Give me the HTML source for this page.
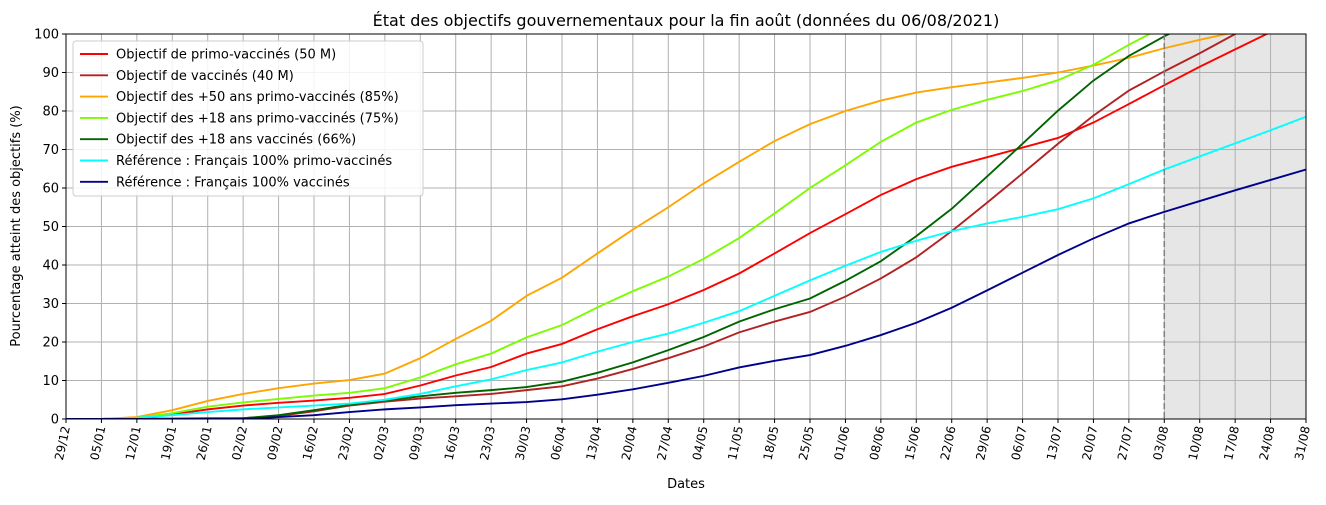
<!DOCTYPE html>
<html><head><meta charset="utf-8"><style>
html,body{margin:0;padding:0;background:#fff;}
svg text{font-family:"DejaVu Sans","Liberation Sans",sans-serif;fill:#000;}
</style></head><body>
<svg id="chart" width="1326" height="500" xmlns="http://www.w3.org/2000/svg">
<defs><clipPath id="pc"><rect x="66" y="34" width="1240" height="385"/></clipPath></defs>
<text x="686" y="26" font-size="16" text-anchor="middle">État des objectifs gouvernementaux pour la fin août (données du 06/08/2021)</text>
<rect id="proj" y="34" height="385" fill="#e6e6e6"/>
<g id="grid"></g>
<g id="lines" clip-path="url(#pc)"></g>
<line id="cutline" y1="34" y2="419" stroke="#808080" stroke-width="1.5" stroke-dasharray="6,3"/>
<rect x="66" y="34" width="1240" height="385" fill="none" stroke="#000" stroke-width="1"/>
<g id="axes"></g>
<text x="686" y="488" font-size="13" text-anchor="middle">Dates</text>
<text transform="translate(20,226) rotate(-90)" font-size="13" text-anchor="middle">Pourcentage atteint des objectifs (%)</text>
<g id="legend"></g>
</svg>
<script>
const dates=["29/12","05/01","12/01","19/01","26/01","02/02","09/02","16/02","23/02","02/03","09/03","16/03","23/03","30/03","06/04","13/04","20/04","27/04","04/05","11/05","18/05","25/05","01/06","08/06","15/06","22/06","29/06","06/07","13/07","20/07","27/07","03/08","10/08","17/08","24/08","31/08"];
const yTicks=[0,10,20,30,40,50,60,70,80,90,100];
const todayIndex=31;
const seriesNames=["Objectif de primo-vaccinés (50 M)","Objectif de vaccinés (40 M)","Objectif des +50 ans primo-vaccinés (85%)","Objectif des +18 ans primo-vaccinés (75%)","Objectif des +18 ans vaccinés (66%)","Référence : Français 100% primo-vaccinés","Référence : Français 100% vaccinés"];
const seriesColors=["#ff0000","#b22222","#ffa500","#7cfc00","#006400","#00ffff","#00008b"];
const red=[0,0,0.3,1.2,2.5,3.5,4.2,4.8,5.5,6.5,8.7,11.3,13.5,17,19.5,23.3,26.7,29.8,33.5,37.8,43,48.3,53.2,58.2,62.3,65.5,68,70.5,73,77,81.8,86.7,91.5,96,100.5,105];
const brown=[0,0,0,0,0,0.2,0.8,2,3.5,4.5,5.3,5.9,6.5,7.5,8.5,10.5,13,15.8,18.8,22.5,25.3,27.8,31.8,36.5,42,48.8,56.2,63.8,71.5,78.8,85.3,90.3,95,100,105,110];
const orange=[0,0,0.5,2.3,4.7,6.5,8,9.2,10.1,11.8,15.8,20.8,25.5,32,36.7,43,49.2,55,61.2,66.8,72.2,76.6,80,82.7,84.8,86.2,87.4,88.6,90,91.8,93.8,96.3,98.5,100.5,102.5,104.5];
const lime=[0,0,0.3,1.5,3.2,4.3,5.2,6.1,6.8,8,10.8,14.2,17,21.2,24.4,29,33.2,37,41.6,47,53.4,60,65.9,72,77,80.3,82.9,85.2,88,92,97.2,102,106,110,114,118];
const dgreen=[0,0,0.1,0.1,0.2,0.2,1,2.3,3.7,4.8,5.9,6.8,7.5,8.3,9.7,12,14.7,17.9,21.3,25.3,28.5,31.3,35.9,41,47.5,54.6,63,71.5,80.1,87.9,94.3,99.4,104,109,114,119];
const cyan=[0,0,0.3,1,1.8,2.5,3,3.5,4,5,6.5,8.5,10.3,12.7,14.7,17.5,20,22.2,25,28,32,36,39.8,43.4,46.3,48.8,50.8,52.5,54.5,57.3,61,64.8,68.2,71.6,75,78.5];
const navy=[0,0,0,0,0,0,0.5,1,1.8,2.5,3,3.6,4,4.4,5.1,6.3,7.7,9.4,11.2,13.4,15.1,16.6,19,21.8,25,28.9,33.4,38,42.6,46.9,50.8,53.8,56.6,59.4,62.1,64.8];
const seriesData=[red,brown,orange,lime,dgreen,cyan,navy];

const X0=66,X1=1306,Y0=419,Y1=34;
const xs=i=>X0+i*(X1-X0)/(dates.length-1);
const ys=v=>Y0-v*(Y0-Y1)/100;
const NS="http://www.w3.org/2000/svg";
function mk(tag,attrs,parent){const e=document.createElementNS(NS,tag);for(const k in attrs)e.setAttribute(k,attrs[k]);parent.appendChild(e);return e;}
const proj=document.getElementById('proj');
proj.setAttribute('x',xs(todayIndex));proj.setAttribute('width',X1-xs(todayIndex));
const cut=document.getElementById('cutline');
cut.setAttribute('x1',xs(todayIndex));cut.setAttribute('x2',xs(todayIndex));
const grid=document.getElementById('grid'),axes=document.getElementById('axes');
dates.forEach((d,i)=>{
  const g=mk('line',{x1:xs(i),x2:xs(i),y1:Y1,y2:Y0,stroke:'#b0b0b0','stroke-width':1},grid);
  
  
  const t=mk('line',{x1:xs(i),x2:xs(i),y1:Y0,y2:Y0+4,stroke:'#000'},axes);
  
  
  const tx=mk('text',{'font-size':12,'text-anchor':'end',transform:`translate(${xs(i)+4},${Y0+8}) rotate(-78)`},axes);
  
  
  tx.textContent=d;
});
yTicks.forEach(v=>{
  const g=mk('line',{x1:X0,x2:X1,y1:ys(v),y2:ys(v),stroke:'#b0b0b0','stroke-width':1},grid);
  
  
  const t=mk('line',{x1:X0-4,x2:X0,y1:ys(v),y2:ys(v),stroke:'#000'},axes);
  
  
  const tx=mk('text',{x:X0-7,y:ys(v)+4.5,'font-size':13,'text-anchor':'end'},axes);
  
  
  tx.textContent=v;
});
const lines=document.getElementById('lines');
seriesData.forEach((s,k)=>{
  const p=mk('polyline',{points:s.map((v,i)=>xs(i)+','+ys(v)).join(' '),fill:'none',stroke:seriesColors[k],'stroke-width':1.9},lines);
  
  
});
const leg=document.getElementById('legend');
const lb=mk('rect',{x:73,y:41,width:350,height:155,rx:3,fill:'#fff','fill-opacity':0.85,stroke:'#ccc'},leg);


seriesNames.forEach((n,k)=>{
  const y=54+k*21.3;
  const l=mk('line',{x1:80,x2:108,y1:y,y2:y,stroke:seriesColors[k],'stroke-width':1.9},leg);
  
  
  const t=mk('text',{x:116,y:y+4.5,'font-size':13},leg);
  
  
  t.textContent=n;
});
</script>
</body></html>
